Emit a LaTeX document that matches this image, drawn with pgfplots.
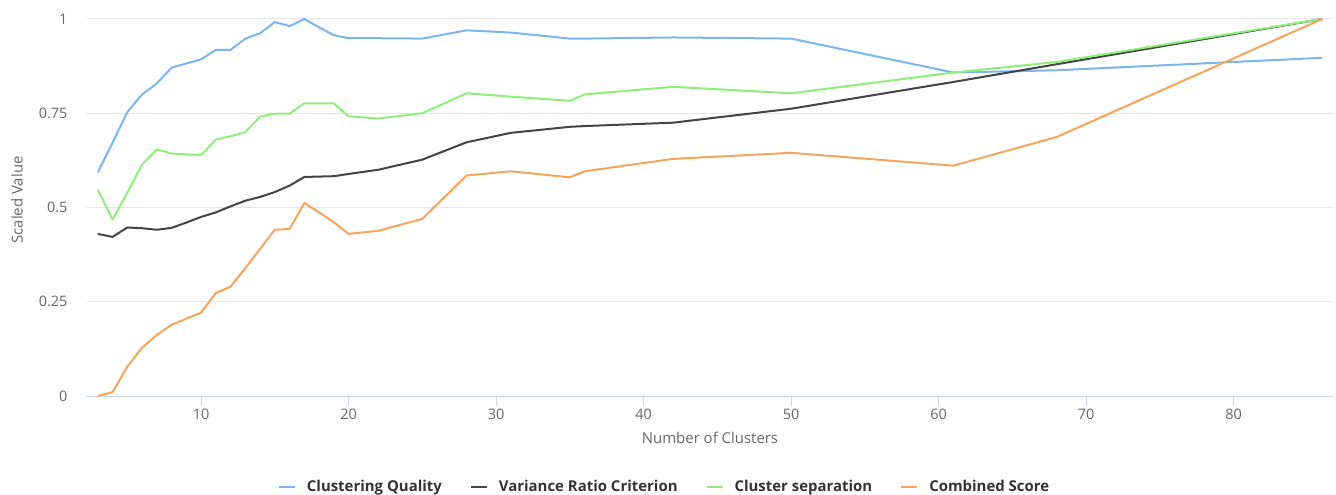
\documentclass[border=0pt]{standalone}
\usepackage{pgfplots}
\usepackage{pgfplotstable}
\pgfplotsset{compat=1.18}
\usepackage{fontspec}
\setmainfont{Open Sans}
\definecolor{cq}{HTML}{7CB5EC}
\definecolor{vr}{HTML}{434348}
\definecolor{cs}{HTML}{90ED7D}
\definecolor{cb}{HTML}{F7A35C}
\definecolor{gridc}{HTML}{E6E6E6}
\definecolor{axline}{HTML}{CCD6EB}
\definecolor{lbl}{HTML}{666666}
\definecolor{leg}{HTML}{333333}

\pgfplotstableread{
x cq vr cs cb
3 0.593 0.430 0.547 0.000
4 0.672 0.422 0.468 0.010
5 0.753 0.447 0.539 0.078
6 0.800 0.445 0.614 0.128
7 0.829 0.441 0.654 0.162
8 0.871 0.446 0.643 0.189
9 0.882 0.460 0.641 0.205
10 0.893 0.475 0.639 0.221
11 0.918 0.487 0.680 0.273
12 0.918 0.503 0.689 0.290
13 0.948 0.518 0.700 0.339
14 0.962 0.528 0.741 0.390
15 0.992 0.541 0.749 0.441
16 0.981 0.558 0.749 0.443
17 1.000 0.581 0.776 0.512
18 0.978 0.582 0.776 0.487
19 0.957 0.583 0.776 0.461
20 0.949 0.589 0.742 0.430
22 0.949 0.600 0.736 0.438
25 0.948 0.627 0.750 0.470
28 0.970 0.673 0.803 0.585
31 0.964 0.698 0.794 0.596
35 0.948 0.714 0.783 0.580
36 0.948 0.716 0.800 0.596
42 0.951 0.725 0.820 0.629
50 0.948 0.762 0.803 0.645
61 0.858 0.833 0.858 0.611
68 0.864 0.880 0.886 0.687
86 0.897 1.000 1.000 1.000
}\datatable

\begin{document}
\begin{tikzpicture}
\useasboundingbox (-86bp,-99bp) rectangle (1250bp,396bp);
\begin{axis}[
  name=ax,
  at={(0,0)}, anchor=south west,
  scale only axis, width=1248bp, height=377bp,
  xmin=2.2, xmax=86.8, ymin=0, ymax=1,
  axis lines*=left,
  x axis line style={draw=axline, line width=1bp},
  y axis line style={draw=none},
  /pgf/number format/assume math mode=true,
  xtick={10,20,30,40,50,60,70,80},
  ytick={0,0.25,0.5,0.75,1},
  yticklabels={0,0.25,0.5,0.75,1},
  ymajorgrids,
  grid style={draw=gridc, line width=1bp},
  tick align=outside,
  major tick length=10bp,
  xtick style={draw=axline, line width=1bp},
  ytick style={draw=none},
  tick label style={font=\fontsize{14.5}{17}\selectfont, text=lbl},
  y tick label style={xshift=-5bp},
  xlabel={Number of Clusters},
  ylabel={Scaled Value},
  label style={font=\fontsize{15}{18}\selectfont, text=lbl},
  xlabel style={at={(axis description cs:0.5,-0.1114)}, anchor=center},
  ylabel style={at={(axis description cs:-0.0553,0.52)}, anchor=center},
  legend columns=4,
  legend cell align=left,
  legend image code/.code={\draw[#1, line width=2bp] (0bp,0bp) -- (16bp,0bp);},
  legend style={at={(axis description cs:0.4636,-0.2414)}, anchor=center,
    draw=none, fill=none, font=\fontsize{15}{18}\selectfont\bfseries, text=leg,
    /tikz/every even column/.append style={column sep=26bp},
    /tikz/every odd column/.append style={column sep=9bp}},
  every axis plot/.append style={line width=2bp, line join=round},
]
\addplot[cq, no markers] table[x=x, y=cq] {\datatable};
\addlegendentry{Clustering Quality}
\addplot[vr, no markers] table[x=x, y=vr] {\datatable};
\addlegendentry{Variance Ratio Criterion}
\addplot[cs, no markers] table[x=x, y=cs] {\datatable};
\addlegendentry{Cluster separation}
\addplot[cb, no markers] table[x=x, y=cb] {\datatable};
\addlegendentry{Combined Score}
\end{axis}
\end{tikzpicture}
\end{document}
